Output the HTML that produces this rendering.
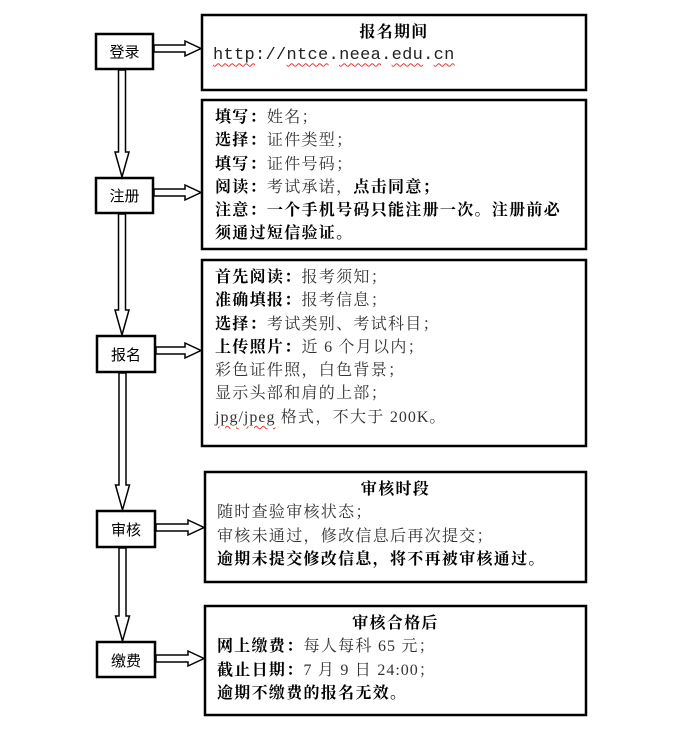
<!DOCTYPE html>
<html><head><meta charset="utf-8"><style>
body{margin:0;background:#fff;width:680px;height:730px;position:relative;overflow:hidden;font-family:"Liberation Serif","Noto Serif CJK SC",serif;}
.t{position:absolute;font-size:16px;line-height:23.3px;color:#333;white-space:nowrap;letter-spacing:1.3px;}
.b{font-weight:bold;color:#000;}
.m{font-family:"Liberation Serif",serif;font-size:16px;letter-spacing:1px;}
.w{text-decoration:underline wavy #e33;text-decoration-thickness:1px;text-underline-offset:3px;}
.lb{position:absolute;font-family:"Liberation Sans","Noto Sans CJK SC",sans-serif;font-size:15px;text-align:center;color:#000;}
.c{text-align:center;}
</style></head><body>
<svg width="680" height="730" style="position:absolute;left:0;top:0">
<g fill="none" stroke="#000" stroke-width="2.5">
<rect x="96" y="34" width="57" height="35"/>
<rect x="96" y="178" width="57" height="35"/>
<rect x="97" y="336" width="58" height="36"/>
<rect x="97" y="511" width="58" height="36"/>
<rect x="97" y="642" width="58" height="35"/>
<rect x="202" y="15" width="384" height="75"/>
<rect x="202" y="100" width="384" height="149"/>
<rect x="202" y="260" width="384" height="186"/>
<rect x="205" y="472" width="381" height="110"/>
<rect x="205" y="606" width="381" height="109"/>
</g>
<g fill="#fff" stroke="#000" stroke-width="1.5">
<path d="M118.5 70 V152 H115 L122 177 L129 152 H125.5 V70 Z"/>
<path d="M118.5 214 V310 H115 L122 335 L129 310 H125.5 V214 Z"/>
<path d="M119 373 V485 H115.5 L122.5 510 L129.5 485 H126 V373 Z"/>
<path d="M119 548 V616 H115.5 L122.5 641 L129.5 616 H126 V548 Z"/>
<path d="M154 45 H185 V41 L201 48.5 L185 56 V52 H154 Z"/>
<path d="M154 189 H185 V185 L201 192.5 L185 200 V196 H154 Z"/>
<path d="M156 347 H185 V343 L201 350.5 L185 358 V354 H156 Z"/>
<path d="M156 524 H188 V520 L204 527.5 L188 535 V531 H156 Z"/>
<path d="M156 655 H188 V651 L204 658.5 L188 666 V662 H156 Z"/>
</g>
</svg>
<div class="lb" style="left:96px;top:41px;width:57px">登录</div>
<div class="lb" style="left:96px;top:185px;width:57px">注册</div>
<div class="lb" style="left:97px;top:344px;width:58px">报名</div>
<div class="lb" style="left:97px;top:519px;width:58px">审核</div>
<div class="lb" style="left:97px;top:650px;width:58px">缴费</div>

<div class="t" style="left:202px;top:21px;width:384px"><div class="c b">报名期间</div><div style="padding-left:11px;font-family:'Liberation Mono',monospace;font-size:17px;letter-spacing:0.3px;color:#222"><span class="w">http</span>://<span class="w">ntce</span>.<span class="w">neea</span>.<span class="w">edu</span>.<span class="w">cn</span></div></div>

<div class="t" style="left:215px;top:106px">
<div><span class="b">填写：</span>姓名；</div>
<div><span class="b">选择：</span>证件类型；</div>
<div><span class="b">填写：</span>证件号码；</div>
<div><span class="b">阅读：</span>考试承诺，<span class="b">点击同意；</span></div>
<div class="b">注意：一个手机号码只能注册一次。注册前必</div>
<div class="b">须通过短信验证。</div>
</div>

<div class="t" style="left:215px;top:266px">
<div><span class="b">首先阅读：</span>报考须知；</div>
<div><span class="b">准确填报：</span>报考信息；</div>
<div><span class="b">选择：</span>考试类别、考试科目；</div>
<div><span class="b">上传照片：</span>近 <span class="m">6</span> 个月以内；</div>
<div>彩色证件照，白色背景；</div>
<div>显示头部和肩的上部；</div>
<div><span class="m"><span class="w">jpg</span>/<span class="w">jpeg</span></span> 格式，不大于 <span class="m">200K</span>。</div>
</div>

<div class="t" style="left:205px;top:478px;width:381px">
<div class="c b">审核时段</div>
<div style="padding-left:12px">随时查验审核状态；</div>
<div style="padding-left:12px">审核未通过，修改信息后再次提交；</div>
<div style="padding-left:12px" class="b">逾期未提交修改信息，将不再被审核通过。</div>
</div>

<div class="t" style="left:205px;top:612px;width:381px">
<div class="c b">审核合格后</div>
<div style="padding-left:12px"><span class="b">网上缴费：</span>每人每科 <span class="m">65</span> 元；</div>
<div style="padding-left:12px"><span class="b">截止日期：</span><span class="m">7</span> 月 <span class="m">9</span> 日 <span class="m">24:00</span>；</div>
<div style="padding-left:12px" class="b">逾期不缴费的报名无效。</div>
</div>
</body></html>
